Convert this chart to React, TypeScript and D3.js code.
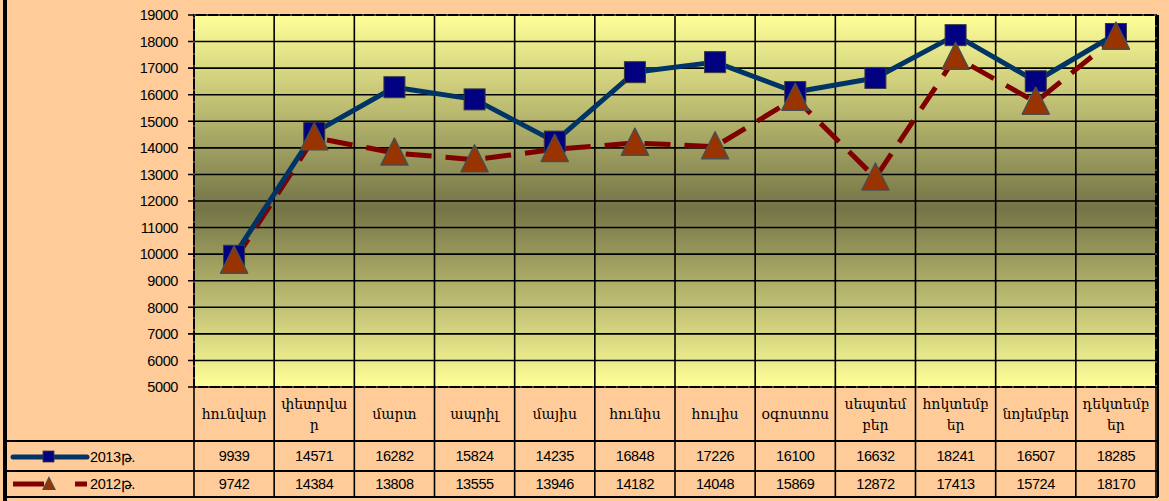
import React from "react";
import * as d3 from "d3";

const months = [
  ["հունվար"],
  ["փետրվա", "ր"],
  ["մարտ"],
  ["ապրիլ"],
  ["մայիս"],
  ["հունիս"],
  ["հուլիս"],
  ["օգոստոս"],
  ["սեպտեմ", "բեր"],
  ["հոկտեմբ", "եր"],
  ["նոյեմբեր"],
  ["դեկտեմբ", "եր"],
];
const series2013 = [9939, 14571, 16282, 15824, 14235, 16848, 17226, 16100, 16632, 18241, 16507, 18285];
const series2012 = [9742, 14384, 13808, 13555, 13946, 14182, 14048, 15869, 12872, 17413, 15724, 18170];
const yTicks = [5000, 6000, 7000, 8000, 9000, 10000, 11000, 12000, 13000, 14000, 15000, 16000, 17000, 18000, 19000];
const label2013 = "2013թ.";
const label2012 = "2012թ.";

const W = 1169, H = 501;
const L = 194, R = 1156, T = 15, B = 387;
const rowH = 441, row1 = 471, row2 = 497;

export default function App() {
  const idx = months.map((_, i) => String(i));
  const x = d3.scaleBand<string>().domain(idx).range([L, R]);
  const y = d3.scaleLinear().domain([5000, 19000]).range([B, T]);
  const cx = (i: number) => (x(String(i)) as number) + x.bandwidth() / 2;
  const line = d3.line<number>().x((_, i) => cx(i)).y((d) => y(d));
  const numFont = "'Liberation Sans', Arial, sans-serif";
  const armFont = "'DejaVu Serif', serif";
  const tri = (px: number, py: number, s: number) =>
    `M${px},${py - s * 0.55} L${px + s / 2},${py + s * 0.45} L${px - s / 2},${py + s * 0.45} Z`;

  return (
    <div style={{ position: "absolute", left: 0, top: 0 }}>
      <svg width={W} height={H} style={{ display: "block" }}>
        <defs>
          <linearGradient id="pg" x1="0" y1="0" x2="0" y2="1">
            <stop offset="0" stopColor="#FFFF99" />
            <stop offset="0.52" stopColor="#747447" />
            <stop offset="1" stopColor="#FFFF99" />
          </linearGradient>
        </defs>
        <rect x={0} y={0} width={W} height={H} fill="#FFCC99" />
        <rect x={3} y={0} width={4} height={H} fill="#000" />
        <rect x={L} y={T} width={R - L} height={B - T} fill="url(#pg)" />
        {/* horizontal grid */}
        {yTicks.map((t) => (
          <g key={t}>
            <line x1={L - 6} x2={R} y1={y(t)} y2={y(t)} stroke="#000" strokeWidth={1.6} />
            <text x={178} y={y(t)} dy="0.36em" textAnchor="end" fontFamily={numFont} fontSize={14.5} letterSpacing={-0.4} fill="#000">
              {t}
            </text>
          </g>
        ))}
        {/* vertical grid + table columns */}
        {d3.range(13).map((i) => {
          const xx = i === 12 ? R : (x(String(i)) as number);
          return <line key={i} x1={xx} x2={xx} y1={T} y2={row2} stroke="#000" strokeWidth={1.6} />;
        })}
        {/* plot border dashed */}
        <rect x={L} y={T} width={R - L} height={B - T} fill="none" stroke="#000" strokeWidth={2} />
        <rect x={L} y={T} width={R - L} height={B - T} fill="none" stroke="#fff" strokeOpacity={0.5} strokeWidth={1} strokeDasharray="2,10" />
        <line x1={R + 2} x2={R + 2} y1={T} y2={row2} stroke="#000" strokeWidth={2} />
        {/* table lines */}
        {[rowH, row1, row2].map((yy) => (
          <line key={yy} x1={7} x2={R + 2} y1={yy} y2={yy} stroke="#000" strokeWidth={1.8} />
        ))}
        {/* 2012 series */}
        <path d={line(series2012) || ""} fill="none" stroke="#800000" strokeWidth={5} strokeDasharray="26,14" />
        {/* 2013 series */}
        <path d={line(series2013) || ""} fill="none" stroke="#003366" strokeWidth={5} strokeLinejoin="round" />
        {series2013.map((v, i) => (
          <rect key={i} x={cx(i) - 10.5} y={y(v) - 10.5} width={21} height={21} fill="#000080" stroke="#3a3a3a" strokeWidth={1} />
        ))}
        {series2012.map((v, i) => (
          <path key={i} d={tri(cx(i), y(v), 27)} fill="#993300" stroke="#4d4d4d" strokeWidth={1.5} strokeLinejoin="round" />
        ))}
        {/* month labels */}
        {months.map((m, i) => (
          <text key={i} x={cx(i)} textAnchor="middle" fontFamily={armFont} fontSize={14} fill="#000">
            {m.map((s, k) => (
              <tspan key={k} x={cx(i)} y={m.length === 1 ? 419 : 409 + k * 21}>
                {s}
              </tspan>
            ))}
          </text>
        ))}
        {/* value rows */}
        {series2013.map((v, i) => (
          <text key={i} x={cx(i)} y={456} dy="0.36em" textAnchor="middle" fontFamily={numFont} fontSize={14.5} letterSpacing={-0.4}>
            {v}
          </text>
        ))}
        {series2012.map((v, i) => (
          <text key={i} x={cx(i)} y={484} dy="0.36em" textAnchor="middle" fontFamily={numFont} fontSize={14.5} letterSpacing={-0.4}>
            {v}
          </text>
        ))}
        {/* legend keys */}
        <line x1={13} x2={87} y1={457} y2={457} stroke="#003366" strokeWidth={5} strokeLinecap="round" />
        <rect x={43} y={451} width={11} height={11} fill="#000080" stroke="#3a3a3a" strokeWidth={0.8} />
        <text x={90} y={457} dy="0.36em" fontFamily={numFont} fontSize={14.5} letterSpacing={-0.4}>
          {label2013}
        </text>
        <line x1={13} x2={44} y1={484} y2={484} stroke="#800000" strokeWidth={5} />
        <line x1={75} x2={87} y1={484} y2={484} stroke="#800000" strokeWidth={5} />
        <path d={tri(49, 484, 12)} fill="#993300" stroke="#4d4d4d" strokeWidth={1.2} />
        <text x={90} y={484} dy="0.36em" fontFamily={numFont} fontSize={14.5} letterSpacing={-0.4}>
          {label2012}
        </text>
      </svg>
    </div>
  );
}
